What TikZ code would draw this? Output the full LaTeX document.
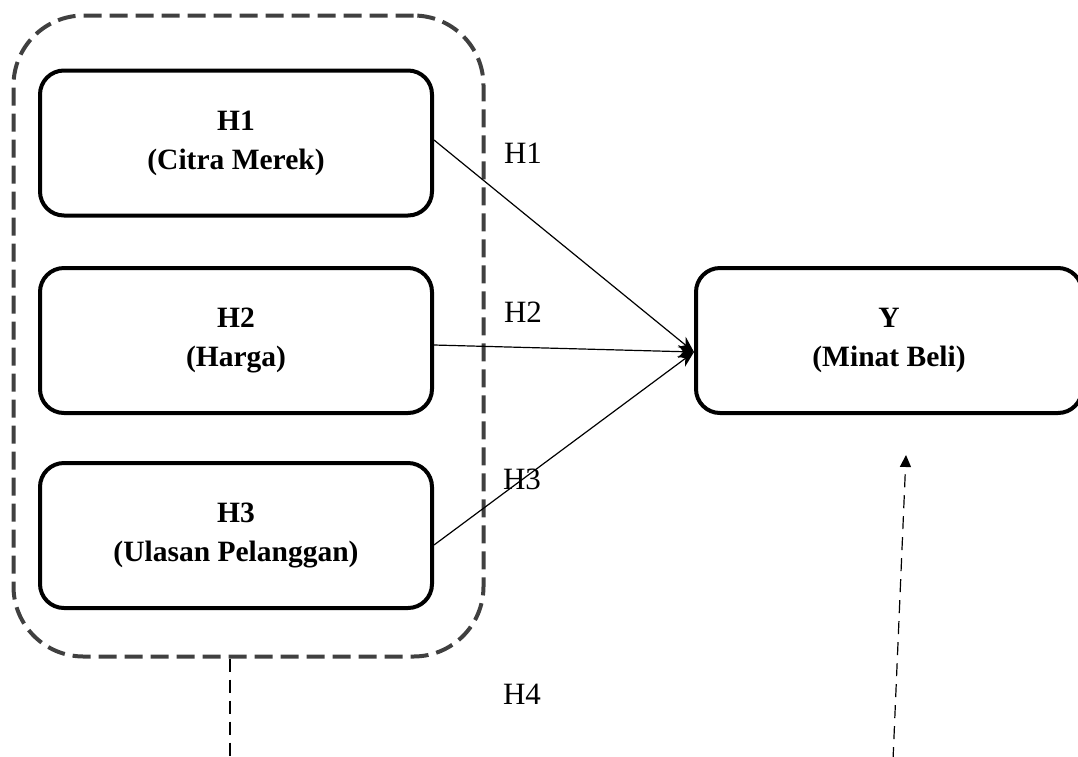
\documentclass[tikz,border=0pt]{standalone}
\usepackage{fontspec}
\setmainfont{Liberation Serif}
\usetikzlibrary{arrows.meta}
\tikzset{
  varbox/.style={draw=black, line width=4pt, rounded corners=24pt, minimum width=392pt, minimum height=145pt, align=center, inner sep=0pt, font=\fontsize{29.5}{39}\selectfont\bfseries},
  grpbox/.style={draw=black!75, line width=4pt, rounded corners=70pt, dash pattern=on 18pt off 8pt, minimum width=470pt, minimum height=641pt, inner sep=0pt},
  hlab/.style={font=\fontsize{31}{34}\selectfont, inner sep=0pt},
  conn/.style={line width=1.2pt, -{Stealth[length=16pt,width=13pt]}},
  dconn/.style={line width=1.2pt, dash pattern=on 13pt off 8pt}
}
\begin{document}
\begin{tikzpicture}[x=1pt,y=-1pt]
\useasboundingbox (0,0) rectangle (1078,756);
\clip (0,0) rectangle (1078,756);
\node[grpbox] (grp) at (248.5,336) {};
\node[varbox] (h1) at (236,143) {H1\\(Citra Merek)};
\node[varbox] (h2) at (236,340.5) {H2\\(Harga)};
\node[varbox] (h3) at (236,535.5) {H3\\(Ulasan Pelanggan)};
\node[varbox, minimum width=386pt] (y) at (889,340.5) {Y\\(Minat Beli)};
\coordinate (tgt) at (694,352);
\draw[conn] (h1.east |- 0,140) -- (tgt);
\draw[conn] (h2.east |- 0,345) -- (tgt);
\draw[conn] (h3.east |- 0,545) -- (tgt);
\node[hlab] (l1) at (523,153) {H1};
\node[hlab] (l2) at (523,312) {H2};
\node[hlab] (l3) at (522,479) {H3};
\node[hlab] (l4) at (522,694) {H4};
\coordinate (lb) at (230,760);
\coordinate (rb) at (893,760);
\coordinate (rt) at (906,455);
\draw[dconn] (grp.south -| lb) -- (lb);
\draw[dconn, -{Triangle[length=12pt,width=11pt]}] (rb) -- (rt);
\end{tikzpicture}
\end{document}
